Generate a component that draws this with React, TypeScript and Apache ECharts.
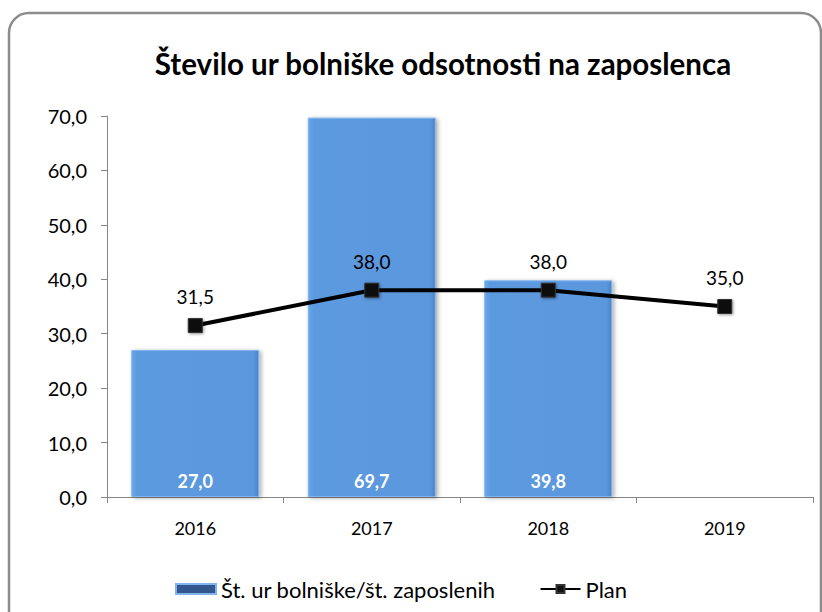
import React, { useEffect, useRef } from "react";
import * as echarts from "echarts";

const categories = ["2016", "2017", "2018", "2019"];
const actualValues: (number | null)[] = [27.0, 69.7, 39.8, null];
const planValues = [31.5, 38.0, 38.0, 35.0];
const seriesNames = ["Št. ur bolniške/št. zaposlenih", "Plan"];
const titleText = "Število ur bolniške odsotnosti na zaposlenca";

const fmt = (v: number) => v.toFixed(1).replace(".", ",");
const FONT = "Lato, 'Open Sans', sans-serif";

export default function App() {
  const ref = useRef<HTMLDivElement>(null);
  useEffect(() => {
    document.body.style.margin = "0";
    const chart = echarts.init(ref.current!, null, { renderer: "svg" });
    chart.setOption({
      animation: false,
      backgroundColor: "#ffffff",
      textStyle: { fontFamily: FONT },
      title: {
        text: titleText,
        left: 438,
        top: 43,
        textAlign: "center",
        textStyle: { fontSize: 29.5, fontWeight: "bold", color: "#000", fontFamily: FONT },
      },
      graphic: [
        {
          type: "rect",
          silent: true,
          shape: { x: 9, y: 13, width: 812, height: 640, r: 20 },
          style: { fill: "none", stroke: "#8c8c8c", lineWidth: 2.5 },
          z: 100,
        },
      ],
      legend: {
        top: 573,
        left: 170,
        itemGap: 44,
        itemWidth: 40,
        itemHeight: 10,
        textStyle: { fontSize: 22, color: "#000", fontFamily: FONT },
        data: [
          {
            name: seriesNames[0],
            icon: "rect",
            itemStyle: { color: "#34568f" },
          },
          {
            name: seriesNames[1],
          },
        ],
      },
      grid: { left: 107, right: 9, top: 116, bottom: 115, containLabel: false },
      xAxis: {
        type: "category",
        data: categories,
        axisLine: { lineStyle: { color: "#868686", width: 1 } },
        axisTick: { show: true, alignWithLabel: false, length: 6, lineStyle: { color: "#868686" } },
        axisLabel: { fontSize: 18, color: "#000", margin: 22, fontFamily: FONT },
      },
      yAxis: {
        type: "value",
        min: 0,
        max: 70,
        interval: 10,
        splitLine: { show: false },
        axisLine: { show: true, lineStyle: { color: "#868686", width: 1 } },
        axisTick: { show: true, length: 6, lineStyle: { color: "#868686" } },
        axisLabel: { fontSize: 20, color: "#000", margin: 20, formatter: (v: number) => fmt(v), fontFamily: FONT },
      },
      series: [
        {
          name: seriesNames[0],
          type: "bar",
          data: actualValues,
          barWidth: "72.5%",
          itemStyle: {
            color: new echarts.graphic.LinearGradient(0, 0, 1, 0, [
              { offset: 0, color: "#6aa6ea" },
              { offset: 0.04, color: "#5c9ae0" },
              { offset: 0.96, color: "#5a97dd" },
              { offset: 1, color: "#4a82c4" },
            ]),
            borderColor: "#7fb4ee",
            borderWidth: 1,
            shadowColor: "rgba(0,0,0,0.35)",
            shadowBlur: 4,
            shadowOffsetX: 2,
            shadowOffsetY: 1,
          },
          label: {
            show: true,
            position: "insideBottom",
            distance: 7,
            color: "#ffffff",
            fontSize: 18,
            fontWeight: "bold",
            fontFamily: FONT,
            formatter: (p: any) => fmt(p.value),
          },
          z: 2,
        },
        {
          name: seriesNames[1],
          type: "line",
          data: planValues,
          symbol: "rect",
          symbolSize: 14,
          lineStyle: { color: "#000", width: 4 },
          itemStyle: {
            color: "#111",
            borderColor: "#333",
            borderWidth: 1,
            shadowColor: "rgba(0,0,0,0.4)",
            shadowBlur: 3,
            shadowOffsetX: 1,
            shadowOffsetY: 1,
          },
          label: {
            show: true,
            position: "top",
            distance: 12,
            color: "#000",
            fontSize: 19,
            fontFamily: FONT,
            formatter: (p: any) => fmt(p.value),
          },
          z: 5,
        },
      ],
    });
    return () => chart.dispose();
  }, []);
  return <div ref={ref} style={{ width: 822, height: 612 }} />;
}
